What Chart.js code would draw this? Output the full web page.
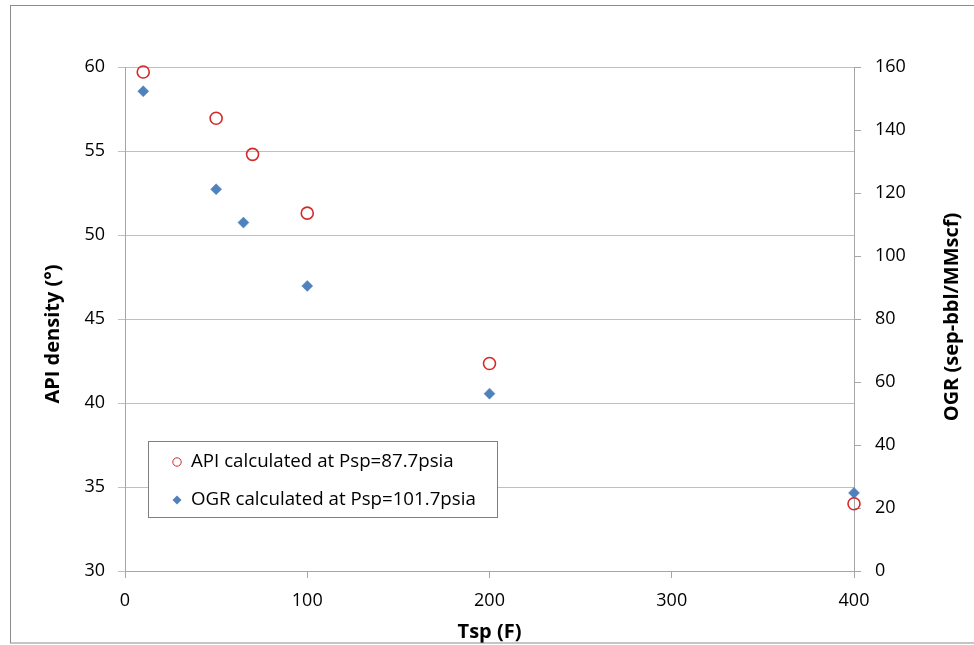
<!DOCTYPE html>
<html>
<head>
<meta charset="utf-8">
<title>API density and OGR vs Tsp</title>
<script src="https://cdn.jsdelivr.net/npm/chart.js@4.4.1/dist/chart.umd.min.js"></script>
<style>
    html, body { margin: 0; padding: 0; background: #fff; }
    #myChart { display: block; }
</style>
</head>
<body>
<canvas id="myChart" width="974" height="645"></canvas>
<script>
// separator temperature (F) for each series
const tspApi = [10, 50, 70, 100, 200, 400];
const apiValues = [59.7, 56.95, 54.8, 51.3, 42.35, 34.0];

const tspOgr = [10, 50, 65, 100, 200, 400];
const ogrValues = [152.3, 121.2, 110.6, 90.5, 56.3, 24.8];

const apiLabel = 'API calculated at Psp=87.7psia';
const ogrLabel = 'OGR calculated at Psp=101.7psia';

const xTitle = 'Tsp (F)';
const yLeftTitle = 'API density (°)';
const yRightTitle = 'OGR (sep-bbl/MMscf)';

const gridColor = '#bfbfbf';
const axisColor = '#a6a6a6';
const redColor = '#d42a2a';
const blueColor = '#4f81bd';
const fontFamily = "'Open Sans', 'Noto Sans', sans-serif";

// border, rotated axis titles and the boxed legend
const extras = {
    id: 'extras',
    afterDraw(chart) {
        const ctx = chart.ctx;

        ctx.save();
        // outer frame of the chart (right side is cut off)
        ctx.strokeStyle = '#8c8c8c';
        ctx.lineWidth = 1;
        ctx.strokeRect(10.5, 5.5, 980, 637.5);

        // axis titles
        ctx.fillStyle = '#000';
        ctx.font = 'bold 20px ' + fontFamily;
        ctx.textAlign = 'center';
        ctx.textBaseline = 'middle';

        ctx.save();
        ctx.translate(53, 334);
        ctx.rotate(-Math.PI / 2);
        ctx.fillText(yLeftTitle, 0, 0);
        ctx.restore();

        ctx.save();
        ctx.translate(952, 317);
        ctx.rotate(-Math.PI / 2);
        ctx.fillText(yRightTitle, 0, 0);
        ctx.restore();

        // legend box
        const box = { x: 148.5, y: 441.5, w: 349, h: 76 };
        ctx.fillStyle = '#fff';
        ctx.fillRect(box.x, box.y, box.w, box.h);
        ctx.strokeStyle = '#7f7f7f';
        ctx.strokeRect(box.x, box.y, box.w, box.h);

        const rows = [
            { ds: chart.data.datasets[0], y: 462 },
            { ds: chart.data.datasets[1], y: 500 }
        ];
        rows.forEach(row => {
            const mx = 177;
            if (row.ds.pointStyle === 'circle') {
                ctx.beginPath();
                ctx.arc(mx, row.y, 4.2, 0, Math.PI * 2);
                ctx.strokeStyle = row.ds.borderColor;
                ctx.lineWidth = 1;
                ctx.stroke();
            } else {
                ctx.beginPath();
                ctx.moveTo(mx, row.y - 4.5);
                ctx.lineTo(mx + 4.5, row.y);
                ctx.lineTo(mx, row.y + 4.5);
                ctx.lineTo(mx - 4.5, row.y);
                ctx.closePath();
                ctx.fillStyle = row.ds.backgroundColor;
                ctx.fill();
            }
            ctx.fillStyle = '#000';
            ctx.font = '18.7px ' + fontFamily;
            ctx.textAlign = 'left';
            ctx.fillText(row.ds.label, 191, row.y);
        });
        ctx.restore();
    }
};

document.addEventListener('DOMContentLoaded', function() {
    var ctx = document.getElementById('myChart').getContext('2d');

    var myChart = new Chart(ctx, {
        type: 'scatter',
        data: {
            datasets: [{
                label: apiLabel,
                data: tspApi.map((x, i) => ({ x: x, y: apiValues[i] })),
                yAxisID: 'y',
                pointStyle: 'circle',
                pointRadius: 6,
                pointBorderWidth: 1.6,
                borderColor: redColor,
                backgroundColor: 'rgba(255,255,255,0)',
                showLine: false,
                clip: false
            }, {
                label: ogrLabel,
                data: tspOgr.map((x, i) => ({ x: x, y: ogrValues[i] })),
                yAxisID: 'y1',
                pointStyle: 'rectRot',
                pointRadius: 5.5,
                pointBorderWidth: 0.5,
                borderColor: blueColor,
                backgroundColor: blueColor,
                showLine: false,
                clip: false
            }]
        },
        options: {
            responsive: false,
            animation: false,
            devicePixelRatio: 1,
            layout: {
                padding: { top: 67, left: 0, right: 0, bottom: 0 }
            },
            scales: {
                x: {
                    type: 'linear',
                    position: 'bottom',
                    min: 0,
                    max: 400,
                    afterFit: scale => { scale.height = 74; },
                    ticks: {
                        stepSize: 100,
                        color: '#000',
                        padding: 12,
                        font: { family: fontFamily, size: 18 }
                    },
                    grid: {
                        drawOnChartArea: false,
                        drawTicks: true,
                        tickLength: 7,
                        color: axisColor
                    },
                    border: { display: true, color: axisColor },
                    title: {
                        display: true,
                        text: xTitle,
                        color: '#000',
                        font: { family: fontFamily, size: 20, weight: 'bold' },
                        padding: { top: 0, bottom: 1 }
                    }
                },
                y: {
                    position: 'left',
                    min: 30,
                    max: 60,
                    afterFit: scale => { scale.width = 125; },
                    ticks: {
                        stepSize: 5,
                        color: '#000',
                        padding: 13,
                        font: { family: fontFamily, size: 18 }
                    },
                    grid: {
                        color: gridColor,
                        tickLength: 7
                    },
                    border: { display: true, color: axisColor }
                },
                y1: {
                    position: 'right',
                    min: 0,
                    max: 160,
                    afterFit: scale => { scale.width = 120; },
                    ticks: {
                        stepSize: 20,
                        color: '#000',
                        padding: 14,
                        font: { family: fontFamily, size: 18 }
                    },
                    grid: {
                        drawOnChartArea: false,
                        tickLength: 7,
                        color: axisColor
                    },
                    border: { display: true, color: axisColor }
                }
            },
            plugins: {
                legend: { display: false },
                tooltip: { enabled: false }
            }
        },
        plugins: [extras]
    });
});
</script>
</body>
</html>
